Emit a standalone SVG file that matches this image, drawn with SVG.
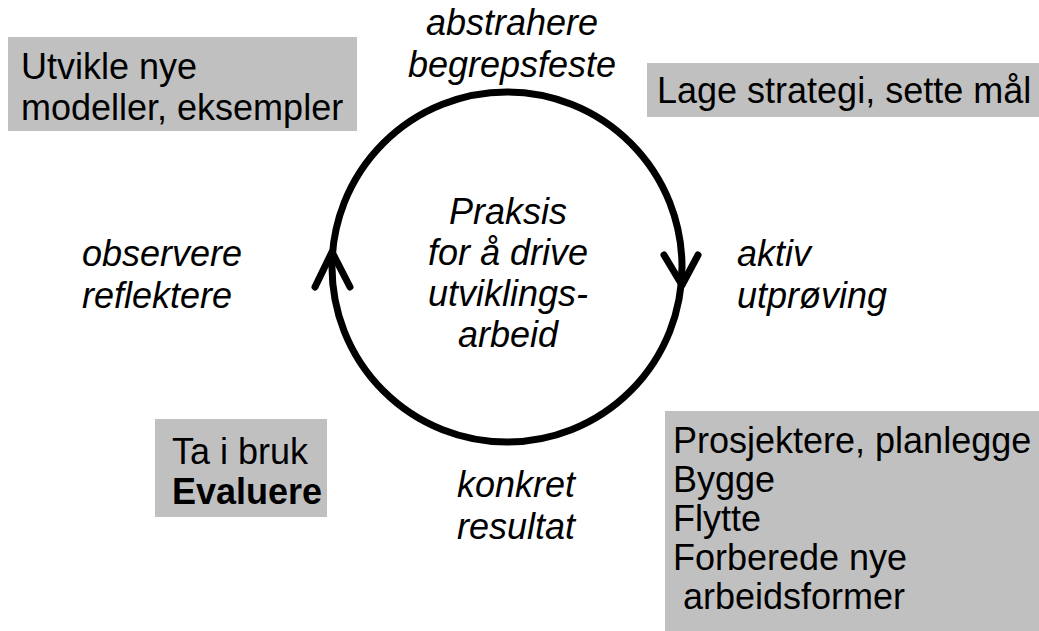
<svg xmlns="http://www.w3.org/2000/svg" width="1039" height="631" viewBox="0 0 1039 631">
<style>
.box{fill:#c0c0c0;}
.t{font-family:"Liberation Sans",Arial,sans-serif;font-size:36px;fill:#000;}
.i{font-style:italic;}
.b{font-weight:bold;}
.m{text-anchor:middle;}
.ln{fill:none;stroke:#000;stroke-width:7;stroke-linecap:round;stroke-linejoin:round;}
</style>
<rect width="1039" height="631" fill="#fff"/>
<g id="box-utvikle">
<rect class="box" x="8" y="37" width="349" height="94"/>
<text class="t" x="21" y="79">Utvikle nye</text>
<text class="t" x="21" y="120">modeller, eksempler</text>
</g>
<g id="box-lage">
<rect class="box" x="647" y="63" width="392" height="54"/>
<text class="t" x="657" y="103">Lage strategi, sette mål</text>
</g>
<g id="box-ta">
<rect class="box" x="155" y="419" width="172" height="98"/>
<text class="t" x="172" y="464">Ta i bruk</text>
<text class="t b" x="172" y="504">Evaluere</text>
</g>
<g id="box-prosjektere">
<rect class="box" x="665" y="411" width="374" height="220"/>
<text class="t" x="673" y="453">Prosjektere, planlegge</text>
<text class="t" x="673" y="492">Bygge</text>
<text class="t" x="673" y="531">Flytte</text>
<text class="t" x="673" y="570">Forberede nye</text>
<text class="t" x="683" y="609">arbeidsformer</text>
</g>
<g id="label-abstrahere">
<text class="t i m" x="512" y="35">abstrahere</text>
<text class="t i m" x="512" y="77">begrepsfeste</text>
</g>
<g id="label-observere">
<text class="t i" x="82" y="266">observere</text>
<text class="t i" x="82" y="308">reflektere</text>
</g>
<g id="label-aktiv">
<text class="t i" x="737" y="266">aktiv</text>
<text class="t i" x="737" y="308">utprøving</text>
</g>
<g id="label-konkret">
<text class="t i" x="457" y="497">konkret</text>
<text class="t i" x="457" y="539">resultat</text>
</g>
<g id="center">
<text class="t i m" x="508" y="224">Praksis</text>
<text class="t i m" x="508" y="265">for å drive</text>
<text class="t i m" x="508" y="306">utviklings-</text>
<text class="t i m" x="508" y="347">arbeid</text>
</g>
<g id="connectors">
<circle class="ln" cx="507" cy="267" r="175"/>
<polyline class="ln" points="664,255 682,285 698,255"/>
<polyline class="ln" points="315,287 332,252 350,287"/>
</g>
</svg>
